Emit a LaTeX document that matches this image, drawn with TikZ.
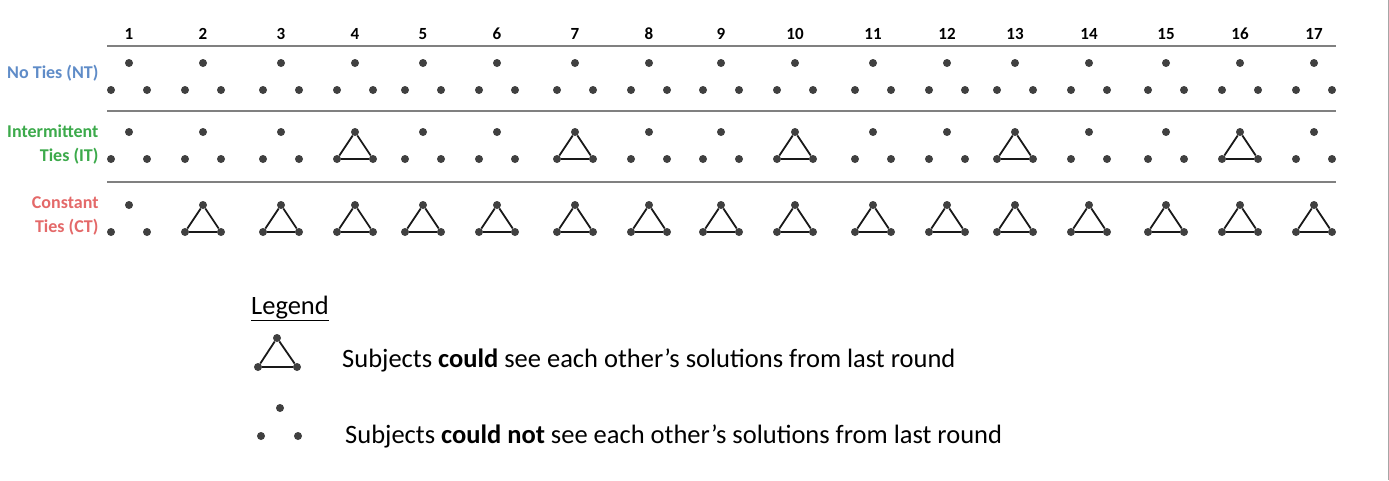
\documentclass[tikz,border=0pt]{standalone}
\usepackage{fontspec}
\setmainfont{Carlito}
\definecolor{dotgray}{RGB}{64,64,64}
\definecolor{rulegray}{RGB}{128,128,128}
\definecolor{ntblue}{RGB}{95,140,200}
\definecolor{itgreen}{RGB}{60,170,75}
\definecolor{ctred}{RGB}{228,105,105}
\begin{document}
\begin{tikzpicture}[x=1pt,y=-1pt,
  dotnode/.style={circle,fill=dotgray,inner sep=0pt,minimum size=8pt},
  tri/.style={line width=1.8pt,black!90},
  sep/.style={rulegray,line width=1.2pt},
  colnum/.style={font=\fontsize{17}{18}\selectfont\bfseries,anchor=center},
  rowlab/.style={font=\fontsize{18}{24}\selectfont\bfseries,anchor=east,align=right},
  legtext/.style={font=\fontsize{26.5}{30}\selectfont,anchor=west}]
\useasboundingbox (0,0) rectangle (1389,480);
\fill[white] (0,0) rectangle (1389,480);
\draw[rulegray!70,line width=1pt] (1388,0) -- (1388,480);
% column numbers
\foreach \i/\x in {1/129,2/203,3/281,4/355,5/423,6/497,7/575,8/649,9/721,10/795,11/873,12/947,13/1015,14/1089,15/1166,16/1240,17/1314}{
  \node[colnum] (num\i) at (\x,34) {\i};
  \node[dotnode] (nt\i t) at (\x,63) {};
  \node[dotnode] (nt\i l) at (\x-18,90) {};
  \node[dotnode] (nt\i r) at (\x+18,90) {};
  \node[dotnode] (it\i t) at (\x,132) {};
  \node[dotnode] (it\i l) at (\x-18,159) {};
  \node[dotnode] (it\i r) at (\x+18,159) {};
  \node[dotnode] (ct\i t) at (\x,205) {};
  \node[dotnode] (ct\i l) at (\x-18,232) {};
  \node[dotnode] (ct\i r) at (\x+18,232) {};
}
% separators
\coordinate (s1a) at (107,46); \coordinate (s1b) at (1336,46);
\coordinate (s2a) at (107,111); \coordinate (s2b) at (1336,111);
\coordinate (s3a) at (107,182); \coordinate (s3b) at (1336,182);
\draw[sep] (s1a) -- (s1b);
\draw[sep] (s2a) -- (s2b);
\draw[sep] (s3a) -- (s3b);
% triangles
\foreach \i in {4,7,10,13,16}{
  \draw[tri] (it\i t) -- (it\i l) -- (it\i r) -- (it\i t);
}
\foreach \i in {2,...,17}{
  \draw[tri] (ct\i t) -- (ct\i l) -- (ct\i r) -- (ct\i t);
}
% row labels
\node[rowlab,text=ntblue] (labNT) at (102,73) {No Ties (NT)};
\node[rowlab,text=itgreen] (labIT) at (102,145) {Intermittent\\Ties (IT)};
\node[rowlab,text=ctred] (labCT) at (102,216) {Constant\\Ties (CT)};
% legend
\node[legtext,inner sep=0pt,anchor=base west] (leg) at (251,314) {\underline{Legend}};
\node[dotnode] (lgt) at (277,338) {};
\node[dotnode] (lgl) at (258,367) {};
\node[dotnode] (lgr) at (297,367) {};
\draw[tri] (lgt) -- (lgl) -- (lgr) -- (lgt);
\node[legtext,inner sep=0pt,anchor=base west] (leg1) at (342,367) {Subjects \textbf{could} see each other’s solutions from last round};
\node[dotnode] (lnt) at (280,408) {};
\node[dotnode] (lnl) at (261,436) {};
\node[dotnode] (lnr) at (298,436) {};
\node[legtext,inner sep=0pt,anchor=base west] (leg2) at (345,443) {Subjects \textbf{could not} see each other’s solutions from last round};
\end{tikzpicture}
\end{document}
